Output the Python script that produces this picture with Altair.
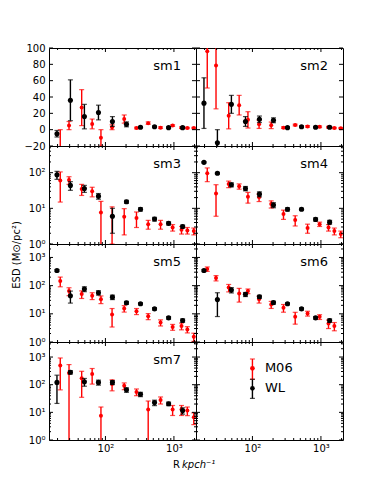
import altair as alt
import pandas as pd

# Radial bins (kpc/h) of the two measurements
R_WL = [19.6, 30.8, 49.3, 79.1, 126.5, 202.8, 325, 521, 836, 1340]
R_M06 = [21.9, 29.4, 45, 64, 86, 125, 188, 284, 421, 638, 957, 1290, 1570, 1950]

SM1_WL = [-5, 36, 16, 21, 10, 6.5, 3, 3.5, 2.5, 2.5]
SM1_WL_ERR = [4, 25, 15, 9, 6, 3, 1, 1, 1, 1]
SM1_M06 = [-30, 5, 27, 7, -10, 3, 13, 2, 8, 2.5, 5, 2.5, 2, 2]
SM1_M06_ERR = [30, 5, 22, 6, 10, 3, 5, 1, 1.5, 1, 1, 1, 0.8, 0.8]

SM2_WL = [32.5, -16, 31, 10, 12.7, 11.5, 2.5, 3.5, 3, 3]
SM2_WL_ERR = [31, 16, 11, 6, 4, 3, 1, 1, 1, 1]
SM2_M06 = [96, 78.5, 17, 30, 12, 6.5, 5.3, 2.5, 5.7, 4, 3.5, 3, 2, 1.8]
SM2_M06_ERR = [45, 53, 16, 12, 10, 5, 4, 1, 1, 1, 1, 1, 0.8, 0.8]

SM3_WL = [87, 44, 36, 22, 6, 15.3, 9.4, 5.0, 3.8, 3.1]
SM3_WL_ERR = [22, 12, 8, 4, 4, 1.5, 1, 0.6, 0.4, 0.3]
SM3_M06 = [60, 62, 35, 30, 7.7, 6, 5.8, 5.4, 3.6, 3.6, 2.9, 2.5, 2.4, 2.3]
SM3_M06_ERR = [45, 15, 12, 9, 8, 5, 4, 2.5, 1, 1, 0.6, 0.6, 0.5, 0.5]

SM4_WL = [195, 96, 46, 36, 25, 12.4, 9.4, 9.4, 4.9, 4.1]
SM4_WL_ERR = [10, 6, 6, 5, 4, 2, 1, 0.7, 0.5, 0.5]
SM4_M06 = [96, 26, 48, 41.5, 21, 20.5, 13.2, 6.9, 4.7, 2.8, 3.6, 2.9, 2.3, 1.9]
SM4_M06_ERR = [40, 20, 10, 7, 7, 5, 3, 2, 1.5, 0.8, 0.5, 0.6, 0.5, 0.4]

SM5_WL = [344, 44, 76, 56, 39, 24.6, 22.7, 15, 7.2, 5.8]
SM5_WL_ERR = [30, 20, 15, 10, 7, 3, 2, 1.5, 0.8, 0.8]
SM5_M06 = [146, 64, 50, 44, 33, 9.4, 15.5, 12.4, 8.2, 4.9, 3.4, 3.7, 2.8, 1.55]
SM5_M06_ERR = [55, 20, 15, 12, 10, 6, 4, 3, 2, 1.2, 0.8, 1, 0.7, 0.5]

SM6_WL = [344, 32, 70, 49, 40.5, 25, 22.7, 15, 7.2, 5.8]
SM6_WL_ERR = [30, 24, 15, 8, 5, 3, 2, 1.5, 0.8, 0.8]
SM6_M06 = [390, 187, 85, 53, 64, 33, 21.5, 16.4, 7.8, 10.3, 7.8, 4.5, 3.7, None]
SM6_M06_ERR = [70, 40, 25, 27, 12, 9, 6, 5, 3.5, 2, 1.5, 1.5, 1.2, None]

SM7_WL = [121, 283, 128, 121, 121, 65, 45, 22.5, 20.5, 11.6]
SM7_WL_ERR = [100, 40, 40, 25, 20, 12, 8, 5, 3, 3]
SM7_M06 = [495, 267, 170, 245, 7.6, 105, 91, 55, 12.7, 28, 12.7, 12.7, 11.6, 6.6]
SM7_M06_ERR = [430, 267, 135, 140, 8, 45, 25, 15, 13, 8, 5, 5, 4, 3]

PANEL_NAMES = ["sm1", "sm2", "sm3", "sm4", "sm5", "sm6", "sm7"]
PANEL_DATA = [
    (SM1_WL, SM1_WL_ERR, SM1_M06, SM1_M06_ERR),
    (SM2_WL, SM2_WL_ERR, SM2_M06, SM2_M06_ERR),
    (SM3_WL, SM3_WL_ERR, SM3_M06, SM3_M06_ERR),
    (SM4_WL, SM4_WL_ERR, SM4_M06, SM4_M06_ERR),
    (SM5_WL, SM5_WL_ERR, SM5_M06, SM5_M06_ERR),
    (SM6_WL, SM6_WL_ERR, SM6_M06, SM6_M06_ERR),
    (SM7_WL, SM7_WL_ERR, SM7_M06, SM7_M06_ERR),
]

# Legend entries (drawn in the empty last panel)
LEG_NAMES = ["M06", "WL"]
LEG_COLORS = ["#ff0000", "#000000"]
LEG_V = [392, 74]
LEG_LO = [157, 32]
LEG_HI = [850, 157]
LEG_R = 100
LEG_TEXT_R = 152

# Axis tick values
X_MAJOR = [100, 1000]
X_MINOR = [20, 30, 40, 50, 60, 70, 80, 90, 200, 300, 400, 500, 600, 700, 800, 900, 2000]
LIN_MAJOR = [-20, 0, 20, 40, 60, 80, 100]
LOG_MAJOR = [1, 10, 100, 1000]
LOG_MINOR = [m * d for d in (1, 10, 100, 1000) for m in range(2, 10)]

Y_TITLE = "ESD (M⊙/pc²)"
X_TITLE_A = "R"
X_TITLE_B = "kpch⁻¹"

W, H = 147, 98
FONT = "DejaVu Sans"
XDOM = [15, 2100]
ROW_Y = [("linear", [-20, 100]), ("log", [1, 560]), ("log", [1, 3000]), ("log", [1, 3500])]
LOG_LABEL = ("datum.value < 5 ? '10⁰' : datum.value < 50 ? '10¹' : "
             "datum.value < 500 ? '10²' : '10³'")
RED, BLACK = "#ff0000", "#000000"


def text_layer(txt, x, y, **kw):
    return alt.Chart(pd.DataFrame({"t": [txt]})).mark_text(font=FONT, color="black", **kw).encode(
        text="t:N", x=alt.value(x), y=alt.value(y))


def panel(idx):
    row, col = divmod(idx, 2)
    stype, ydom = ROW_Y[row]
    is_log = stype == "log"
    xs = alt.Scale(type="log", domain=XDOM, nice=False)
    if is_log:
        ys = alt.Scale(type="log", domain=ydom, nice=False)
        ymaj = [v for v in LOG_MAJOR if ydom[0] <= v <= ydom[1]]
        ymin = [v for v in LOG_MINOR if ydom[0] <= v <= ydom[1]]
    else:
        ys = alt.Scale(type="linear", domain=ydom, nice=False, zero=False)
        ymaj = LIN_MAJOR
        ymin = []

    if row == 3:
        xax = alt.Axis(values=X_MAJOR, labelExpr=LOG_LABEL, ticks=False, domain=False, grid=False,
                       labelPadding=3, labelFlush=False, labelOverlap=False, title=None)
    else:
        xax = None
    if col == 0:
        if is_log:
            yax = alt.Axis(values=ymaj, labelExpr=LOG_LABEL, ticks=False, domain=False, grid=False,
                           labelPadding=4, labelFlush=False, labelOverlap=False, title=None)
        else:
            yax = alt.Axis(values=ymaj, ticks=False, domain=False, grid=False,
                           labelPadding=4, labelFlush=False, labelOverlap=False, title=None)
    else:
        yax = None

    def X(f):
        return alt.X(f, type="quantitative", scale=xs, axis=xax)

    def Y(f):
        return alt.Y(f, type="quantitative", scale=ys, axis=yax)

    layers = []

    def series(R, v, e, color, size):
        df = pd.DataFrame({"R": R, "v": v, "e": e}).dropna()
        df["lo"] = df["v"] - df["e"]
        df["hi"] = df["v"] + df["e"]
        if is_log:
            df["lo"] = df["lo"].clip(lower=1e-3)
        base = alt.Chart(df)
        layers.append(base.mark_rule(color=color, strokeWidth=1.4, clip=True).encode(
            x=X("R"), y=Y("lo"), y2=alt.Y2("hi")))
        for f in ("lo", "hi"):
            layers.append(base.mark_tick(color=color, orient="horizontal", size=5, thickness=1.2,
                                         clip=True).encode(x=X("R"), y=Y(f)))
        layers.append(base.mark_circle(color=color, size=size, opacity=1, clip=True).encode(
            x=X("R"), y=Y("v")))

    if idx < 7:
        wl, wle, m6, m6e = PANEL_DATA[idx]
        series(R_M06, m6, m6e, RED, 16)
        series(R_WL, wl, wle, BLACK, 26)
        layers.append(text_layer(PANEL_NAMES[idx], W - 15, 18, align="right", baseline="middle",
                                 fontSize=13))
    else:
        leg = pd.DataFrame({"name": LEG_NAMES, "c": LEG_COLORS, "v": LEG_V, "lo": LEG_LO,
                            "hi": LEG_HI, "R": [LEG_R] * 2, "Rt": [LEG_TEXT_R] * 2})
        base = alt.Chart(leg)
        cs = alt.Color("c:N", scale=None)
        layers.append(base.mark_rule(strokeWidth=1.4).encode(x=X("R"), y=Y("lo"), y2=alt.Y2("hi"),
                                                             color=cs))
        for f in ("lo", "hi"):
            layers.append(base.mark_tick(orient="horizontal", size=5, thickness=1.2).encode(
                x=X("R"), y=Y(f), color=cs))
        layers.append(base.mark_circle(size=22, opacity=1).encode(x=X("R"), y=Y("v"), color=cs))
        layers.append(base.mark_text(align="left", baseline="middle", fontSize=13, font=FONT,
                                     color="black").encode(x=X("Rt"), y=Y("v"), text="name:N"))

    # inward tick marks on all four sides
    for vals, L in ((X_MAJOR, 4), (X_MINOR, 2)):
        b = alt.Chart(pd.DataFrame({"t": vals})).mark_rule(color="black", strokeWidth=1)
        layers.append(b.encode(x=X("t"), y=alt.value(H), y2=alt.value(H - L)))
        layers.append(b.encode(x=X("t"), y=alt.value(0), y2=alt.value(L)))
    for vals, L in ((ymaj, 4), (ymin, 2)):
        if not vals:
            continue
        b = alt.Chart(pd.DataFrame({"t": vals})).mark_rule(color="black", strokeWidth=1)
        layers.append(b.encode(y=Y("t"), x=alt.value(0), x2=alt.value(L)))
        layers.append(b.encode(y=Y("t"), x=alt.value(W), x2=alt.value(W - L)))

    if idx == 4:
        layers.append(text_layer(Y_TITLE, -32, 11, angle=270, align="center", baseline="middle",
                                 fontSize=10))
    if idx == 6:
        layers.append(text_layer(X_TITLE_A, 124, 123, align="left", baseline="middle", fontSize=10))
        layers.append(text_layer(X_TITLE_B, 133, 123, align="left", baseline="middle", fontSize=10,
                                 fontStyle="italic"))

    return alt.layer(*layers).properties(width=W, height=H)


chart = alt.concat(*[panel(i) for i in range(8)], columns=2, spacing=0, bounds="flush").properties(
    padding={"left": 3, "top": 34, "right": 5, "bottom": 5},
    background="white",
).configure_view(stroke="black", strokeWidth=1).configure_axis(
    labelFont=FONT, labelFontSize=10, labelColor="black")

chart.save("out.html", embed_options={"renderer": "svg", "actions": False})
